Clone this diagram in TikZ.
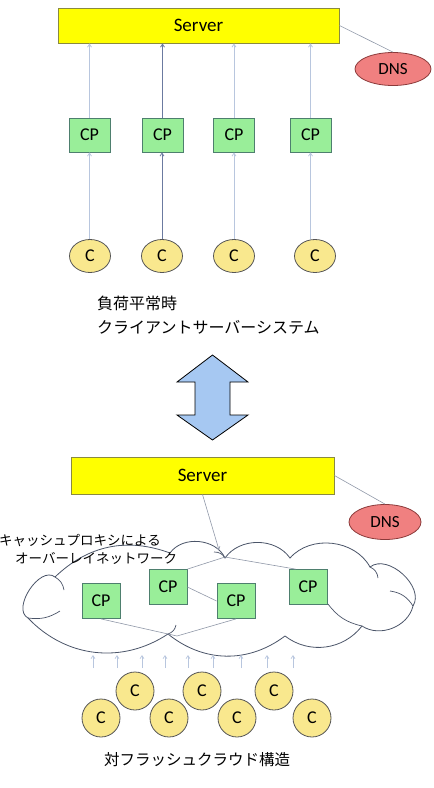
\documentclass[tikz,border=0pt]{standalone}
\usepackage{fontspec}
\newfontfamily\latf{Carlito}
\newfontfamily\jpf{Noto Sans CJK JP}
\usetikzlibrary{shapes.geometric,arrows.meta}
\definecolor{srvfill}{HTML}{FFFF00}
\definecolor{srvdraw}{HTML}{8A8A40}
\definecolor{cpfill}{HTML}{99EE99}
\definecolor{cpdraw}{HTML}{4E7F6E}
\definecolor{cfill}{HTML}{F9E88E}
\definecolor{cdraw}{HTML}{555555}
\definecolor{dnsfill}{HTML}{F08080}
\definecolor{dnsdraw}{HTML}{8B3A3A}
\definecolor{arlight}{HTML}{B8C6DE}
\definecolor{ardark}{HTML}{6B7AA0}
\definecolor{cloudline}{HTML}{4A5468}
\definecolor{dblfill}{HTML}{A6C8F2}
\definecolor{thin}{HTML}{9098A8}
\begin{document}
\begin{tikzpicture}[x=1pt,y=-1pt,
  server/.style={draw=srvdraw,fill=srvfill,line width=0.9pt,minimum width=281pt,minimum height=35pt,inner sep=0pt,font=\latf\fontsize{19}{22}\selectfont},
  cpbox/.style={draw=cpdraw,fill=cpfill,line width=0.8pt,minimum width=41pt,minimum height=34pt,inner sep=0pt,font=\latf\fontsize{18}{21}\selectfont},
  cnode/.style={ellipse,draw=cdraw,fill=cfill,line width=0.8pt,minimum width=41pt,minimum height=33pt,inner sep=0pt,font=\latf\fontsize{18}{21}\selectfont},
  dnsnode/.style={ellipse,draw=dnsdraw,fill=dnsfill,line width=0.8pt,minimum width=76pt,minimum height=33pt,inner sep=0pt,font=\latf\fontsize{17}{20}\selectfont},
  upar/.style={draw=arlight,line width=0.8pt,-{Straight Barb[length=3pt,width=4pt]}},
  upardark/.style={draw=ardark,line width=0.8pt,-{Straight Barb[length=3pt,width=4pt]}},
  thinline/.style={draw=thin,line width=0.6pt},
  jtext/.style={inner sep=0pt,font=\jpf\fontsize{16}{19}\selectfont},
  jsmall/.style={inner sep=0pt,font=\jpf\fontsize{13.5}{16}\selectfont},
  cloudpath/.style={draw=cloudline,line width=0.8pt},
  curl/.style={draw=cloudline,line width=0.7pt},
  dblarrow/.style={draw=black,fill=dblfill,line width=0.8pt,line join=miter}
]
\useasboundingbox (0,0) rectangle (434,788);

% ---------- top part ----------
\node[server] (s1) at (198.5,25.5) {Server};
\node[dnsnode] (d1) at (393,69) {DNS};
\draw[thinline] (s1.east) -- (d1.north);

\node[cpbox] (cp1) at (89.5,135) {CP};
\node[cpbox] (cp2) at (162.5,135) {CP};
\node[cpbox] (cp3) at (234,135) {CP};
\node[cpbox] (cp4) at (310.5,135) {CP};

\node[cnode] (c1) at (90,256) {C};
\node[cnode] (c2) at (162,256) {C};
\node[cnode] (c3) at (234,256) {C};
\node[cnode] (c4) at (315,256) {C};

\draw[upar] (cp1.north) -- (cp1.north |- s1.south);
\draw[upardark] (cp2.north) -- (cp2.north |- s1.south);
\draw[upar] (cp3.north) -- (cp3.north |- s1.south);
\draw[upar] (cp4.north) -- (cp4.north |- s1.south);

\draw[upar] (c1.north -| cp1.south) -- (cp1.south);
\draw[upardark] (c2.north) -- (c2.north |- cp2.south);
\draw[upar] (c3.north) -- (cp3.south);
\draw[upar] (c4.north -| cp4.south) -- (cp4.south);

\node[jtext,anchor=west] (t1) at (97,303) {負荷平常時};
\node[jtext,anchor=west] (t2) at (97,327) {クライアントサーバーシステム};

% ---------- double arrow ----------
\draw[dblarrow] (212.5,355) -- (248,382) -- (230,382) -- (230,415) -- (248,415)
  -- (212.5,440) -- (177,415) -- (195,415) -- (195,382) -- (177,382) -- cycle;

% ---------- bottom part ----------
\node[server] (s2) at (202.5,475.5) [minimum width=263pt,minimum height=37pt] {Server};
\node[dnsnode] (d2) at (385,522) [minimum width=72pt,minimum height=35pt] {DNS};
\draw[thinline] (s2.east) -- (d2.north);

% cloud
\coordinate (A) at (28,618);
\coordinate (B) at (55,577);
\coordinate (C) at (170,553);
\coordinate (D) at (225,558);
\coordinate (E) at (290,558);
\coordinate (F) at (370,567);
\coordinate (G) at (413,606);
\coordinate (H) at (362,626);
\coordinate (I) at (285,636);
\coordinate (J) at (168,634);
\draw[cloudpath,fill=white] (A) to[bend left=95] (B) to[bend left=32] (C) to[bend left=60] (D)
  to[bend left=55] (E) to[bend left=55] (F) to[bend left=80] (G) to[bend left=55] (H)
  to[bend left=45] (I) to[bend left=38] (J) to[bend left=40] (A);
% interior curls
\draw[curl] (A) to[bend right=20] (60,611);
\draw[curl] (B) to[bend left=25] (64,590);
\draw[curl] (D) to[bend right=30] (214,552);
\draw[curl] (F) to[bend left=30] (378,578);
\draw[curl] (G) to[bend right=25] (390,591);
\draw[curl] (H) to[bend left=20] (328,604);
\draw[curl] (J) to[bend right=30] (176,625);

\coordinate (ap) at (219,550);
\draw[thinline,-{Straight Barb[length=3pt,width=4pt]}] (s2.south) -- (ap);

\node[cpbox,minimum width=38pt,minimum height=35pt] (b1) at (101,601) {CP};
\node[cpbox,minimum width=38pt,minimum height=35pt] (b2) at (168,587) {CP};
\node[cpbox,minimum width=38pt,minimum height=35pt] (b3) at (236,601) {CP};
\node[cpbox,minimum width=38pt,minimum height=35pt] (b4) at (308,587) {CP};

\coordinate (tp) at (225,557);
\coordinate (bp) at (177,636);
\draw[thinline] (b2.east) -- (b3.west);
\draw[thinline] (b2.north east) -- (tp) -- ([xshift=7pt]b4.north west);
\draw[thinline] (b1.south) -- (bp) -- (b3.south);

\node[jsmall,anchor=west] (l1) at (-1,540) {キャッシュプロキシによる};
\node[jsmall,anchor=west] (l2) at (15,558) {オーバーレイネットワーク};

% small arrows
\foreach \xx [count=\i] in {93,117,142,165,188,213,241,267,293} {
  \coordinate (sa\i) at (\xx,668);
  \coordinate (sb\i) at (\xx,655);
  \draw[upar,line width=0.7pt] (sa\i) -- (sb\i);
}

\node[cnode,minimum width=38pt,minimum height=38pt] (e1) at (135,691) {C};
\node[cnode,minimum width=38pt,minimum height=38pt] (e2) at (202,691) {C};
\node[cnode,minimum width=38pt,minimum height=38pt] (e3) at (274,691) {C};
\node[cnode,minimum width=38pt,minimum height=38pt] (e4) at (101,718) {C};
\node[cnode,minimum width=38pt,minimum height=38pt] (e5) at (169,718) {C};
\node[cnode,minimum width=38pt,minimum height=38pt] (e6) at (237,718) {C};
\node[cnode,minimum width=38pt,minimum height=38pt] (e7) at (312,718) {C};

\node[jtext,font=\jpf\fontsize{15.5}{18}\selectfont] (t3) at (197,760) {対フラッシュクラウド構造};
\end{tikzpicture}
\end{document}
